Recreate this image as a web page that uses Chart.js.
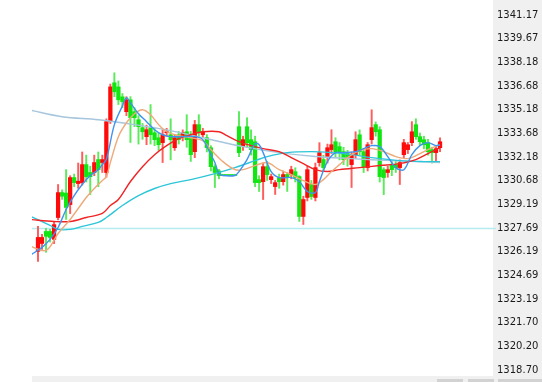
<!DOCTYPE html>
<html>
<head>
<meta charset="utf-8">
<script src="https://cdn.jsdelivr.net/npm/chart.js@4"></script>
<style>
  html, body { margin: 0; padding: 0; background: #fff; }
  #wrap { width: 542px; height: 382px; }
</style>
</head>
<body>
<div id="wrap"><canvas id="kline" width="542" height="382"></canvas></div>
<script>
/* ================= DATA ================= */
const yTicks = [1341.17, 1339.67, 1338.18, 1336.68, 1335.18, 1333.68, 1332.18, 1330.68,
    1329.19, 1327.69, 1326.19, 1324.69, 1323.19, 1321.70, 1320.20, 1318.70];
const refPrice = 1327.69;

const opens = [1326.21, 1326.71, 1327.47, 1327.47, 1326.97, 1328.35, 1329.93, 1329.90, 1329.17, 1330.88,
    1330.50, 1330.56, 1331.70, 1331.20, 1331.20, 1332.02, 1331.83, 1331.20, 1334.42, 1336.88,
    1336.62, 1335.99, 1335.05, 1335.80, 1335.05, 1334.54, 1334.04, 1333.47, 1334.04, 1333.72,
    1333.40, 1333.09, 1333.72, 1333.59, 1332.77, 1333.59, 1333.47, 1333.78, 1333.59, 1332.52,
    1334.23, 1333.59, 1333.40, 1332.77, 1331.57, 1331.30, 1331.01, 1331.01, 1331.01, 1331.01,
    1334.10, 1332.84, 1334.10, 1333.28, 1333.15, 1330.75, 1330.62, 1331.57, 1330.75, 1330.31,
    1330.88, 1330.62, 1331.07, 1331.07, 1331.25, 1330.94, 1328.42, 1329.62, 1330.44, 1329.62,
    1331.83, 1332.02, 1332.21, 1332.65, 1333.15, 1332.84, 1332.52, 1332.40, 1331.70, 1332.33,
    1333.59, 1332.52, 1331.51, 1333.28, 1334.23, 1333.91, 1331.38, 1331.20, 1331.70, 1331.70,
    1331.51, 1332.33, 1332.65, 1333.09, 1334.23, 1333.47, 1333.28, 1333.09, 1332.65, 1332.46,
    1332.77];
const highs = [1327.79, 1327.28, 1327.66, 1327.60, 1328.10, 1330.44, 1330.10, 1331.38, 1331.00, 1331.10,
    1331.80, 1332.50, 1332.30, 1331.60, 1332.30, 1332.50, 1332.30, 1334.60, 1336.80, 1337.51,
    1337.00, 1336.20, 1336.00, 1336.00, 1335.30, 1334.80, 1334.30, 1334.20, 1335.50, 1334.00,
    1333.70, 1333.90, 1334.00, 1334.60, 1333.60, 1333.80, 1333.90, 1334.86, 1333.80, 1334.50,
    1334.86, 1334.00, 1333.60, 1332.90, 1331.70, 1331.40, 1331.01, 1331.01, 1331.01, 1331.01,
    1335.05, 1333.50, 1334.67, 1333.90, 1333.50, 1331.00, 1331.80, 1331.90, 1331.10, 1330.70,
    1331.10, 1331.30, 1331.20, 1331.60, 1331.50, 1331.00, 1329.70, 1331.60, 1330.70, 1331.80,
    1333.09, 1332.30, 1333.00, 1333.91, 1333.40, 1333.10, 1332.80, 1332.60, 1332.50, 1333.78,
    1333.90, 1332.70, 1333.10, 1335.17, 1334.40, 1334.10, 1331.50, 1331.60, 1331.90, 1331.90,
    1332.00, 1333.30, 1333.10, 1334.42, 1334.60, 1333.70, 1333.50, 1333.30, 1332.80, 1332.90,
    1333.40];
const lows = [1325.58, 1326.33, 1326.15, 1326.80, 1326.70, 1328.20, 1329.50, 1328.23, 1328.60, 1330.30,
    1330.20, 1330.40, 1330.60, 1329.80, 1331.00, 1330.30, 1331.20, 1330.90, 1334.30, 1336.00,
    1335.50, 1335.30, 1334.80, 1333.10, 1334.10, 1333.00, 1333.30, 1332.96, 1333.00, 1332.90,
    1332.60, 1331.83, 1333.50, 1332.00, 1332.60, 1333.00, 1333.20, 1332.80, 1331.90, 1332.14,
    1333.40, 1333.40, 1332.50, 1331.30, 1330.25, 1330.80, 1331.01, 1331.01, 1331.01, 1331.01,
    1332.20, 1332.60, 1332.80, 1332.30, 1330.30, 1330.00, 1329.49, 1330.70, 1330.50, 1329.81,
    1330.20, 1330.40, 1330.00, 1330.80, 1330.60, 1328.10, 1327.91, 1329.40, 1329.50, 1329.40,
    1331.60, 1331.30, 1331.80, 1332.40, 1332.20, 1332.00, 1331.70, 1331.60, 1330.25, 1332.10,
    1332.30, 1331.20, 1331.30, 1333.00, 1333.50, 1330.60, 1329.80, 1330.90, 1331.00, 1331.20,
    1330.44, 1332.10, 1332.40, 1332.90, 1333.30, 1332.90, 1332.70, 1332.30, 1331.80, 1331.83,
    1332.52];
const closes = [1327.09, 1327.09, 1327.16, 1327.09, 1327.90, 1329.93, 1329.70, 1328.99, 1330.88, 1330.56,
    1330.65, 1331.70, 1330.94, 1330.94, 1331.83, 1331.38, 1332.02, 1334.42, 1336.62, 1336.31,
    1335.80, 1335.68, 1335.80, 1334.67, 1334.67, 1334.10, 1333.78, 1333.91, 1333.59, 1333.28,
    1332.96, 1333.59, 1333.78, 1333.28, 1333.40, 1333.28, 1333.72, 1333.28, 1332.33, 1334.23,
    1333.72, 1333.78, 1332.77, 1331.57, 1331.20, 1331.01, 1331.01, 1331.01, 1331.01, 1331.01,
    1332.46, 1333.28, 1333.09, 1332.65, 1330.56, 1330.56, 1331.57, 1331.07, 1330.94, 1330.56,
    1330.62, 1331.07, 1330.88, 1331.38, 1330.88, 1328.42, 1329.49, 1331.38, 1329.68, 1331.51,
    1332.46, 1331.51, 1332.77, 1332.96, 1332.52, 1332.46, 1332.02, 1332.14, 1332.33, 1333.28,
    1332.52, 1331.57, 1332.96, 1334.04, 1333.78, 1330.94, 1330.88, 1331.38, 1331.38, 1331.51,
    1331.83, 1333.09, 1332.96, 1333.78, 1333.47, 1333.15, 1332.96, 1332.52, 1332.46, 1332.71,
    1333.15];

// moving averages: [candle index, value]
const ma5 = [[-2, 1325.95], [1, 1326.46], [3, 1326.97], [5, 1327.72], [7, 1328.86], [9, 1329.74], [11, 1330.44],
    [13, 1331.01], [15, 1331.38], [16, 1331.70], [17, 1332.02], [19, 1334.23], [21, 1335.42], [22, 1335.93],
    [23, 1335.61], [25, 1334.92], [27, 1334.42], [29, 1333.91], [31, 1333.59], [33, 1333.47], [36, 1333.47],
    [39, 1333.47], [41, 1333.28], [43, 1332.33], [44, 1331.83], [45, 1331.13], [46, 1331.01], [49, 1331.01],
    [50, 1331.26], [52, 1332.02], [54, 1333.03], [55, 1332.96], [56, 1332.46], [58, 1331.26], [60, 1330.88],
    [63, 1330.88], [65, 1330.63], [67, 1330.00], [69, 1329.93], [70, 1330.63], [72, 1331.89], [74, 1332.46],
    [76, 1332.46], [79, 1332.52], [81, 1332.71], [83, 1332.90], [85, 1332.84], [87, 1332.21], [89, 1331.51],
    [91, 1331.38], [93, 1332.33], [95, 1332.90], [97, 1333.09], [99, 1332.90], [100, 1332.96]];
const ma10 = [[-2, 1326.55], [2, 1326.27], [5, 1327.34], [8, 1328.23], [10, 1328.92], [12, 1329.62], [14, 1330.19],
    [16, 1330.69], [17, 1330.94], [18, 1331.83], [20, 1333.47], [22, 1334.35], [24, 1334.92], [26, 1335.17],
    [28, 1334.86], [30, 1334.23], [32, 1333.78], [35, 1333.53], [38, 1333.40], [41, 1333.21], [43, 1332.65],
    [46, 1331.89], [49, 1331.38], [51, 1331.38], [54, 1331.64], [57, 1331.83], [60, 1331.38], [63, 1331.07],
    [66, 1330.69], [69, 1330.44], [71, 1330.75], [73, 1331.26], [75, 1331.70], [77, 1332.14], [80, 1332.58],
    [83, 1332.71], [86, 1332.52], [89, 1332.21], [92, 1332.08], [94, 1332.27], [97, 1332.65], [100, 1332.96]];
const ma20 = [[-2, 1328.23], [4, 1328.10], [8, 1328.10], [12, 1328.35], [16, 1328.61], [18, 1329.11],
    [20, 1329.49], [23, 1330.63], [26, 1331.57], [29, 1332.33], [32, 1332.90], [35, 1333.34], [38, 1333.59],
    [41, 1333.78], [45, 1333.78], [47, 1333.53], [50, 1333.15], [53, 1332.90], [56, 1332.71], [60, 1332.52],
    [63, 1332.14], [66, 1331.76], [69, 1331.38], [72, 1331.26], [75, 1331.38], [80, 1331.51], [85, 1331.64],
    [90, 1331.76], [94, 1332.02], [97, 1332.39], [100, 1332.77]];
const ma60 = [[-2, 1328.45], [3, 1327.85], [5, 1327.60], [8, 1327.60], [11, 1327.79], [15, 1328.04],
    [17, 1328.35], [21, 1329.11], [25, 1329.74], [29, 1330.19], [33, 1330.50], [38, 1330.75], [44, 1331.13],
    [49, 1331.51], [54, 1331.95], [57, 1332.21], [62, 1332.46], [68, 1332.52], [73, 1332.46], [78, 1332.33],
    [83, 1332.14], [90, 1331.95], [96, 1331.89], [100, 1331.89]];
const ma120 = [[-2, 1335.15], [6, 1334.73], [15, 1334.54], [24, 1334.23], [33, 1333.85], [42, 1333.34],
    [51, 1332.84], [60, 1332.46], [69, 1332.21], [78, 1332.08], [88, 1331.95], [100, 1331.83]];

/* ================= BUILD DATASETS ================= */
const upColor = '#ff0a0a';
const downColor = '#12e612';
const isUp = i => closes[i] > opens[i];

const bodies = opens.map((o, i) => ({ x: i, y: [o, closes[i]] }));
const wicks = opens.map((o, i) => ({ x: i, y: [lows[i], highs[i]] }));
const toPts = arr => arr.map(p => ({ x: p[0], y: p[1] }));

function maLine(arr, color, order) {
    return {
        type: 'line',
        data: toPts(arr),
        borderColor: color,
        borderWidth: 1.4,
        pointRadius: 0,
        tension: 0.35,
        fill: false,
        order: order
    };
}

/* ================= BACKGROUND / PANEL PLUGIN ================= */
const panelPlugin = {
    id: 'panel',
    beforeDraw(chart) {
        const { ctx, chartArea } = chart;
        ctx.save();
        ctx.fillStyle = '#ffffff';
        ctx.fillRect(0, 0, chart.width, chart.height);
        // price axis panel
        ctx.fillStyle = '#f0f0f0';
        ctx.fillRect(chartArea.right, 0, chart.width - chartArea.right, chart.height);
        // bottom strip
        ctx.fillRect(chartArea.left, 376, chart.width - chartArea.left, 6);
        ctx.fillStyle = '#d2d2d2';
        ctx.fillRect(437, 379, 26, 3);
        ctx.fillRect(468, 379, 26, 3);
        ctx.fillRect(498, 379, 44, 3);
        ctx.restore();
    },
    beforeDatasetsDraw(chart) {
        const { ctx, chartArea, scales } = chart;
        const y = Math.round(scales.y.getPixelForValue(refPrice)) + 0.5;
        ctx.save();
        ctx.strokeStyle = '#b4ecf0';
        ctx.lineWidth = 1.5;
        ctx.beginPath();
        ctx.moveTo(chartArea.left, y);
        ctx.lineTo(chartArea.right + 3, y);
        ctx.stroke();
        ctx.restore();
    }
};

/* ================= CHART ================= */
new Chart(document.getElementById('kline'), {
    type: 'bar',
    data: {
        datasets: [
            maLine(ma5, '#3f93ee', 1),
            maLine(ma10, '#eeaa7a', 2),
            maLine(ma20, '#f02424', 3),
            maLine(ma60, '#2cc6d8', 4),
            maLine(ma120, '#a6c6de', 5),
            {
                data: bodies,
                backgroundColor: ctx => isUp(ctx.dataIndex) ? upColor : downColor,
                barThickness: 3.6,
                minBarLength: 1,
                grouped: false,
                order: 8
            },
            {
                data: wicks,
                backgroundColor: ctx => isUp(ctx.dataIndex) ? '#ff5c5c' : '#5cea5c',
                barThickness: 1.3,
                grouped: false,
                order: 9
            }
        ]
    },
    options: {
        responsive: false,
        animation: false,
        layout: { padding: { left: 32, top: 15, bottom: 12, right: 0 } },
        plugins: {
            legend: { display: false },
            tooltip: { enabled: false }
        },
        scales: {
            x: {
                type: 'linear',
                min: -1.49,
                max: 113.18,
                offset: false,
                display: false
            },
            y: {
                position: 'right',
                min: 1318.70,
                max: 1341.17,
                afterBuildTicks: scale => {
                    scale.ticks = yTicks.map(v => ({ value: v }));
                },
                afterFit: scale => { scale.width = 49; },
                grid: { display: false, drawTicks: false },
                border: { display: false },
                ticks: {
                    padding: 4,
                    color: '#1a1a1a',
                    font: { family: 'DejaVu Sans', size: 10 },
                    callback: v => v.toFixed(2)
                }
            }
        }
    },
    plugins: [panelPlugin]
});
</script>
</body>
</html>
